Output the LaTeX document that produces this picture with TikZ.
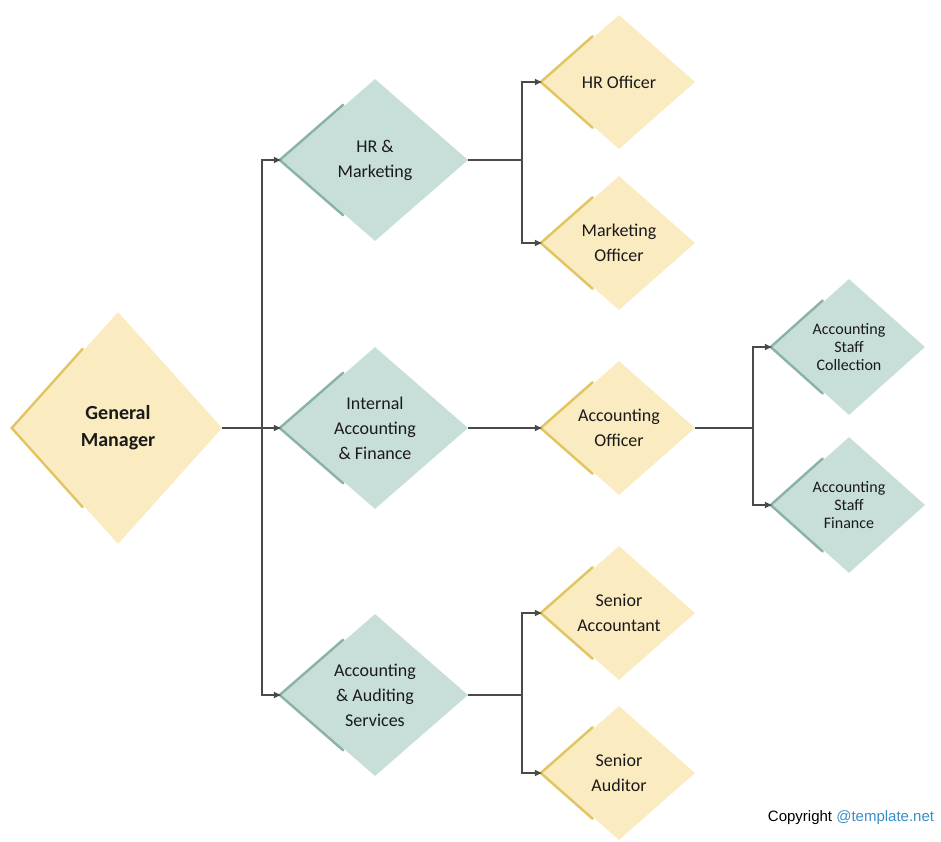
\documentclass[tikz,border=0pt]{standalone}
\usepackage{fontspec}
\setmainfont{Carlito}
\newfontfamily\copyfont{Liberation Sans}
\usetikzlibrary{shapes.geometric,calc,arrows.meta}
\definecolor{yfill}{HTML}{FAEBC0}
\definecolor{yacc}{HTML}{E2C663}
\definecolor{tfill}{HTML}{C8DED9}
\definecolor{tacc}{HTML}{8BB3AA}
\definecolor{lnk}{HTML}{4A4A4A}
\definecolor{txt}{HTML}{1A1A1A}
\definecolor{cblue}{HTML}{3A8EC6}
\newcommand\diaaccent[2]{%
  \draw[#2, line width=2.6pt, line cap=round, line join=miter]
    ($(#1.west)!0.68!(#1.north)+(-2,0)$) -- ($(#1.west)+(-2,0)$) -- ($(#1.west)!0.68!(#1.south)+(-2,0)$);}
\begin{document}
\begin{tikzpicture}[x=1pt,y=-1pt,
  dia/.style={diamond, inner sep=0pt, align=center, text=txt,
    font=\fontsize{18}{25}\selectfont},
  ydia/.style={dia, fill=yfill},
  tdia/.style={dia, fill=tfill},
  big/.style={minimum width=186pt, minimum height=162pt},
  mid/.style={minimum width=152pt, minimum height=134pt},
  small/.style={minimum width=152pt, minimum height=136pt, font=\fontsize{16}{18}\selectfont},
  link/.style={draw=lnk, line width=1.6pt},
  arr/.style={link, -{Latex[length=8pt,width=7pt]}}
]
\useasboundingbox (0,0) rectangle (941,841);

% nodes
\node[ydia, minimum width=208pt, minimum height=232pt,
      font=\fontsize{20}{27}\selectfont\bfseries] (gm) at (118,428) {General\\Manager};
\node[tdia, big] (hr)  at (375,160) {HR \&\\Marketing};
\node[tdia, big] (iaf) at (375,428) {Internal\\Accounting\\\& Finance};
\node[tdia, big] (aas) at (375,695) {Accounting\\\& Auditing\\Services};
\node[ydia, mid] (hro) at (619,82)  {HR Officer};
\node[ydia, mid] (mko) at (619,243) {Marketing\\Officer};
\node[ydia, mid] (aco) at (619,428) {Accounting\\Officer};
\node[ydia, mid] (sac) at (619,613) {Senior\\Accountant};
\node[ydia, mid] (sau) at (619,773) {Senior\\Auditor};
\node[tdia, small] (asc) at (849,347) {Accounting\\Staff\\Collection};
\node[tdia, small] (asf) at (849,505) {Accounting\\Staff\\Finance};

% accents
\diaaccent{gm}{yacc}
\diaaccent{hro}{yacc}
\diaaccent{mko}{yacc}
\diaaccent{aco}{yacc}
\diaaccent{sac}{yacc}
\diaaccent{sau}{yacc}
\diaaccent{hr}{tacc}
\diaaccent{iaf}{tacc}
\diaaccent{aas}{tacc}
\diaaccent{asc}{tacc}
\diaaccent{asf}{tacc}

% junctions
\coordinate (gmj)  at (262,428);
\coordinate (hrj)  at (522,160);
\coordinate (acj)  at (753,428);
\coordinate (aasj) at (522,695);

% connectors
\draw[link] (gm.east) -- (gmj);
\draw[arr] (gmj) |- (hr.west);
\draw[arr] (gmj) -- (iaf.west);
\draw[arr] (gmj) |- (aas.west);

\draw[link] (hr.east) -- (hrj);
\draw[arr] (hrj) |- (hro.west);
\draw[arr] (hrj) |- (mko.west);

\draw[arr] (iaf.east) -- (aco.west);

\draw[link] (aco.east) -- (acj);
\draw[arr] (acj) |- (asc.west);
\draw[arr] (acj) |- (asf.west);

\draw[link] (aas.east) -- (aasj);
\draw[arr] (aasj) |- (sac.west);
\draw[arr] (aasj) |- (sau.west);

% copyright
\node[font=\copyfont\fontsize{15}{17}\selectfont, inner sep=0pt] (copy) at (851,818)
  {Copyright \textcolor{cblue}{@template.net}};
\end{tikzpicture}
\end{document}
